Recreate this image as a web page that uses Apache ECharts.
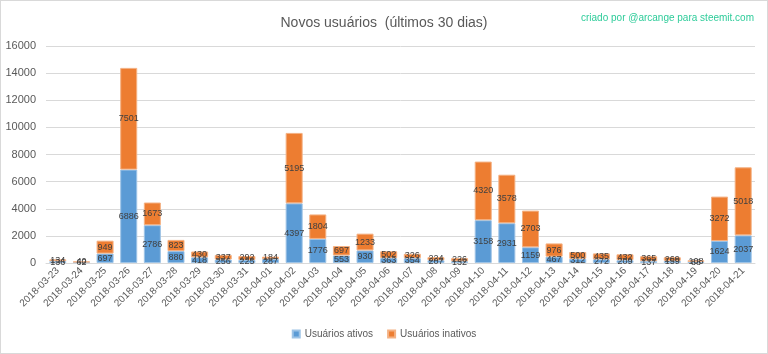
<!DOCTYPE html>
<html>
<head>
<meta charset="utf-8">
<script src="https://cdn.jsdelivr.net/npm/echarts@6/dist/echarts.min.js"></script>
<style>
  html, body { margin: 0; padding: 0; background: #fff; }
  #chart { width: 766px; height: 352px; border: 1px solid #d9d9d9; }
</style>
</head>
<body>
<div id="chart"></div>
<script>
// dados
const dias = [
  '2018-03-23', '2018-03-24', '2018-03-25', '2018-03-26', '2018-03-27', '2018-03-28',
  '2018-03-29', '2018-03-30', '2018-03-31', '2018-04-01', '2018-04-02', '2018-04-03',
  '2018-04-04', '2018-04-05', '2018-04-06', '2018-04-07', '2018-04-08', '2018-04-09',
  '2018-04-10', '2018-04-11', '2018-04-12', '2018-04-13', '2018-04-14', '2018-04-15',
  '2018-04-16', '2018-04-17', '2018-04-18', '2018-04-19', '2018-04-20', '2018-04-21'
];
const ativos = [
  136, 62, 697, 6886, 2786, 880, 418, 256, 225, 287, 4397, 1776,
  553, 930, 363, 354, 207, 132, 3158, 2931, 1159, 467, 312, 272,
  209, 137, 159, 88, 1624, 2037
];
const inativos = [
  134, 40, 949, 7501, 1673, 823, 430, 337, 292, 184, 5195, 1804,
  697, 1233, 502, 326, 224, 226, 4320, 3578, 2703, 976, 500, 435,
  432, 365, 269, 108, 3272, 5018
];

const fonte = '"Liberation Sans", Arial, sans-serif';
const cinza = '#595959';

const myChart = echarts.init(document.getElementById('chart'));

const rotulo = {
  show: true,
  position: 'inside',
  color: '#404040',
  fontSize: 9,
  fontFamily: fonte
};

const option = {
  animation: false,
  title: [
    {
      text: 'Novos usuários  (últimos 30 dias)',
      left: 'center',
      top: 10,
      textStyle: { color: cinza, fontSize: 14, fontWeight: 'normal', fontFamily: fonte }
    },
    {
      text: 'criado por @arcange para steemit.com',
      right: 8,
      top: 7,
      textStyle: { color: '#2ecc9a', fontSize: 10, fontWeight: 'normal', fontFamily: fonte }
    }
  ],
  legend: {
    bottom: 9,
    left: 'center',
    itemWidth: 7,
    itemHeight: 7,
    icon: 'rect',
    itemGap: 14,
    textStyle: { color: cinza, fontSize: 10, fontFamily: fonte },
    data: ['Usuários ativos', 'Usuários inativos']
  },
  grid: {
    left: 45,
    right: 12,
    top: 45,
    bottom: 90
  },
  xAxis: {
    type: 'category',
    data: dias,
    axisLine: { lineStyle: { color: '#d9d9d9' } },
    axisTick: { show: false },
    axisLabel: {
      rotate: 45,
      interval: 0,
      color: cinza,
      fontSize: 10,
      fontFamily: fonte,
      margin: 6
    }
  },
  yAxis: {
    type: 'value',
    min: 0,
    max: 16000,
    interval: 2000,
    axisLine: { show: false },
    axisTick: { show: false },
    axisLabel: {
      color: cinza,
      fontSize: 11,
      fontFamily: fonte,
      margin: 10,
      formatter: (v) => String(v)
    },
    splitLine: { lineStyle: { color: '#d9d9d9' } }
  },
  series: [
    {
      name: 'Usuários ativos',
      type: 'bar',
      stack: 'total',
      barCategoryGap: '28%',
      data: ativos,
      itemStyle: { color: '#5b9bd5', borderColor: '#9dc3e6', borderWidth: 1 },
      label: rotulo
    },
    {
      name: 'Usuários inativos',
      type: 'bar',
      stack: 'total',
      barCategoryGap: '28%',
      data: inativos,
      itemStyle: { color: '#ed7d31', borderColor: '#f4b183', borderWidth: 1 },
      label: rotulo
    }
  ]
};

myChart.setOption(option, true);
</script>
</body>
</html>
